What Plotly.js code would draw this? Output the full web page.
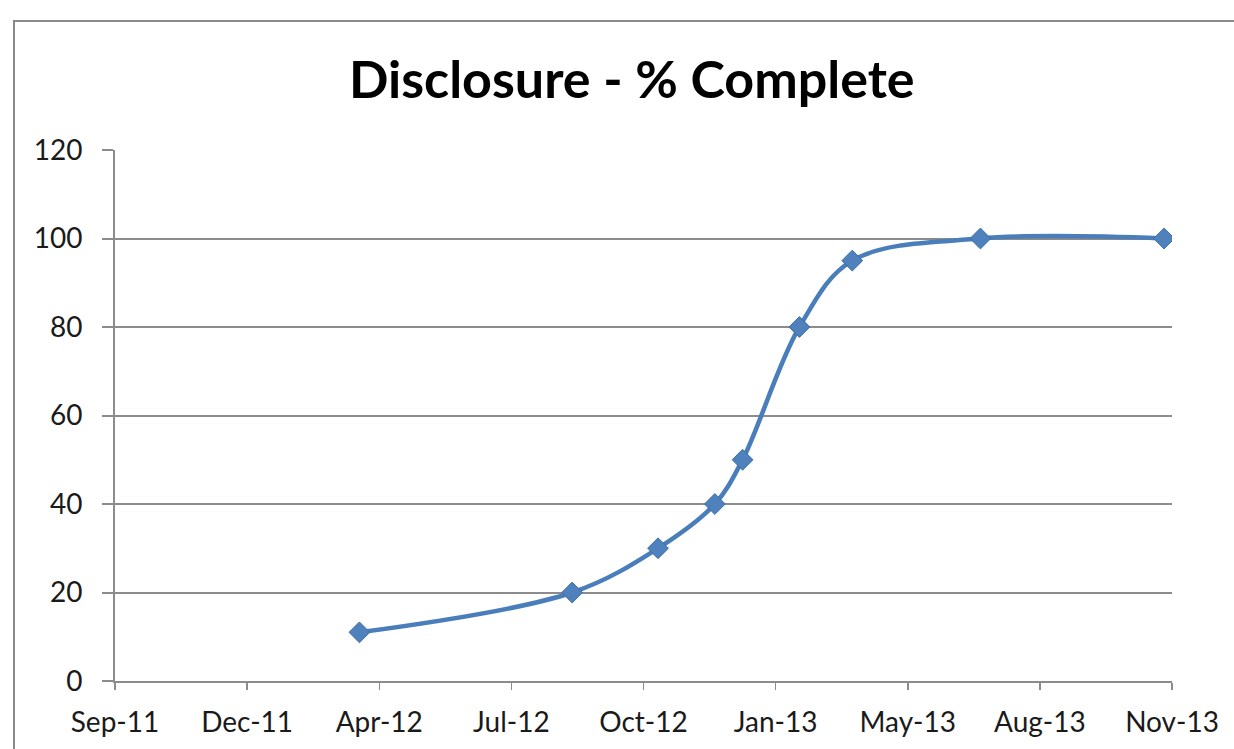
<!DOCTYPE html>
<html>
<head>
<meta charset="utf-8">
<script src="https://cdn.plot.ly/plotly-3.0.1.min.js"></script>
<style>
  html, body { margin: 0; padding: 0; background: #ffffff; }
  #chart { width: 1234px; height: 749px; }
</style>
</head>
<body>
<div id="chart"></div>
<script>
// Data
const dates = ['2012-03-17', '2012-08-25', '2012-10-29', '2012-12-11', '2013-01-01', '2013-02-13', '2013-03-25', '2013-06-30', '2013-11-16'];
const percentComplete = [11, 20, 30, 40, 50, 80, 95, 100, 100];
const chartTitle = 'Disclosure - % Complete';
const xRange = ['2011-09-14', '2013-11-22'];
const yTickValues = [0, 20, 40, 60, 80, 100, 120];

const trace = {
  type: 'scatter',
  mode: 'lines+markers',
  x: dates,
  y: percentComplete,
  line: { shape: 'spline', smoothing: 1, color: '#4A7EBB', width: 4.5 },
  marker: { symbol: 'diamond', size: 16, color: '#4F81BD', line: { color: '#3E6FA8', width: 1 } },
  hoverinfo: 'x+y'
};

const gray = '#8C8C8C';
const fontFam = 'Lato, "Open Sans", sans-serif';
const layout = {
  width: 1234,
  height: 749,
  margin: { l: 115, r: 62, t: 150, b: 68 },
  paper_bgcolor: '#ffffff',
  plot_bgcolor: '#ffffff',
  showlegend: false,
  title: {
    text: chartTitle,
    font: { family: fontFam, size: 52, color: '#000000', weight: 'bold' },
    xref: 'container', x: 0.512, xanchor: 'center',
    yref: 'container', y: 0.893, yanchor: 'middle'
  },
  xaxis: {
    type: 'date',
    range: xRange,
    tick0: xRange[0],
    dtick: 100 * 86400000,
    tickformat: '%b-%y',
    showgrid: false,
    zeroline: false,
    showline: true,
    linecolor: gray,
    linewidth: 2,
    ticks: 'outside',
    ticklen: 7,
    tickwidth: 1.5,
    tickcolor: gray,
    ticklabelstandoff: 8,
    tickfont: { family: fontFam, size: 28, color: '#1a1a1a' }
  },
  yaxis: {
    range: [0, 120],
    tickvals: yTickValues,
    showgrid: true,
    gridcolor: gray,
    gridwidth: 2,
    zeroline: false,
    showline: true,
    linecolor: gray,
    linewidth: 2,
    ticks: 'outside',
    ticklen: 11,
    tickwidth: 2,
    tickcolor: gray,
    ticklabelstandoff: 14,
    tickfont: { family: fontFam, size: 28, color: '#1a1a1a' }
  },
  shapes: [{
    type: 'rect',
    xref: 'paper', yref: 'paper',
    x0: (14 - 115) / 1057, x1: 1.3,
    y0: -0.3, y1: (681 - 21) / 531,
    line: { color: '#8A8A8A', width: 2 },
    fillcolor: 'rgba(0,0,0,0)',
    layer: 'below'
  }]
};

Plotly.newPlot('chart', [trace], layout, { displayModeBar: false, staticPlot: true });
</script>
</body>
</html>
